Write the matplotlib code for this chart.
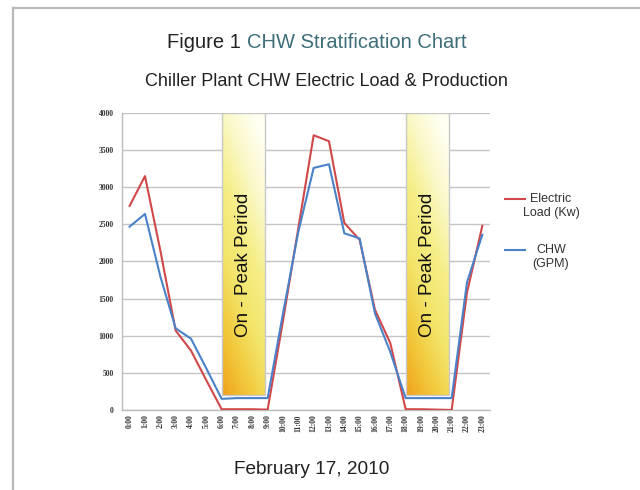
import matplotlib
matplotlib.use("Agg")
import matplotlib.pyplot as plt
import numpy as np
from matplotlib.lines import Line2D
from matplotlib.colors import LinearSegmentedColormap

plt.rcParams['font.family'] = ['Liberation Sans', 'DejaVu Sans']

# data
hour_labels = ["0:00", "1:00", "2:00", "3:00", "4:00", "5:00", "6:00", "7:00",
               "8:00", "9:00", "10:00", "11:00", "12:00", "13:00", "14:00", "15:00",
               "16:00", "17:00", "18:00", "19:00", "20:00", "21:00", "22:00", "23:00"]
electric_kw = [2750, 3150, 2150, 1070, 800, 400, 10, 10, 10, 5, 1200, 2450,
               3700, 3620, 2520, 2290, 1350, 900, 10, 10, 5, 0, 1580, 2480]
chw_gpm = [2470, 2640, 1800, 1100, 960, 560, 150, 160, 160, 160, 1300, 2400,
           3260, 3310, 2380, 2310, 1300, 780, 160, 160, 160, 160, 1720, 2360]
peak_periods = [(6.0, 8.83), (18.0, 20.83)]
peak_bottom = 200
legend_labels = ["Electric\nLoad (Kw)", "CHW\n(GPM)"]

red = "#D0484A"
blue = "#4A82C8"

fig = plt.figure(figsize=(6.4, 4.9), dpi=100)
ax = fig.add_axes([0.1906, 0.1633, 0.575, 0.6061])

x = np.arange(len(hour_labels))
ax.set_xlim(-0.5, len(hour_labels) - 0.5)
ax.set_ylim(0, 4000)
ax.set_yticks(np.arange(0, 4001, 500))
ax.grid(axis='y', color='#C4C4C4', lw=1.0, zorder=0)
ax.set_axisbelow(True)

# on-peak shaded boxes with gradient
cmap = LinearSegmentedColormap.from_list(
    "peak", ["#EFA21E", "#F2C83A", "#F3E46A", "#F5EE86", "#FAF8C8", "#FFFFF2"])
uu, vv = np.meshgrid(np.linspace(0, 1, 60), np.linspace(0, 1, 200))
grad = 0.35 * uu + 0.85 * vv
for x0, x1 in peak_periods:
    ax.imshow(grad, extent=(x0, x1, peak_bottom, 4000), origin='lower',
              cmap=cmap, aspect='auto', zorder=1, vmin=0, vmax=1.1)
    ax.add_patch(plt.Rectangle((x0, peak_bottom), x1 - x0, 4000 - peak_bottom,
                               fill=False, ec='#C8C8C8', lw=1.0, zorder=1.5))
    ax.text((x0 + x1) / 2, 1950, "On - Peak Period", rotation=90,
            ha='center', va='center', fontsize=13.6, color='#111111', zorder=2)

ax.plot(x, electric_kw, color=red, lw=1.5, zorder=3)
ax.plot(x, chw_gpm, color=blue, lw=1.5, zorder=3)

ax.set_xticks(x)
ax.set_xticklabels(hour_labels, rotation=90, fontsize=5.5,
                   family='Liberation Serif', fontweight='bold', color='#333333')
for lab in ax.get_yticklabels():
    lab.set_fontsize(5.5)
    lab.set_family('Liberation Serif')
    lab.set_fontweight('bold')
    lab.set_color('#333333')
ax.tick_params(axis='y', length=0, pad=6)
ax.tick_params(axis='x', length=0, pad=3)
for side in ['top', 'right']:
    ax.spines[side].set_visible(False)
ax.spines['left'].set_color('#BDBDBD')
ax.spines['bottom'].set_color('#BDBDBD')
ax.spines['left'].set_linewidth(1.0)
ax.spines['bottom'].set_linewidth(1.0)

# legend drawn by hand so the key sits on the first text line
for (ly, col, lab) in [(199, red, legend_labels[0]), (250, blue, legend_labels[1])]:
    fy = 1 - ly / 490
    fig.add_artist(Line2D([505 / 640, 525 / 640], [fy, fy], color=col, lw=1.5,
                          transform=fig.transFigure))
    fig.text(551 / 640, fy + 6 / 490, lab, ha='center', va='top', fontsize=9,
             color='#333333', linespacing=1.25)

# titles
fig.canvas.draw()
r = fig.canvas.get_renderer()
ta = fig.text(0, 1 - 43 / 490, "Figure 1 ", fontsize=14.5, color='#222222', va='center')
tb = fig.text(0, 1 - 43 / 490, "CHW Stratification Chart", fontsize=14.5,
              color='#3D6E7A', va='center')
wa = ta.get_window_extent(r).width / 640
wb = tb.get_window_extent(r).width / 640
x0 = 317 / 640 - (wa + wb) / 2
ta.set_x(x0)
tb.set_x(x0 + wa)
fig.text(326 / 640, 1 - 82 / 490, "Chiller Plant CHW Electric Load & Production",
         fontsize=13, color='#222222', ha='center', va='center')
fig.text(312 / 640, 1 - 469 / 490, "February 17, 2010", fontsize=13.7,
         color='#222222', ha='center', va='center')

# page frame
fig.add_artist(Line2D([13 / 640, 1], [1 - 8 / 490, 1 - 8 / 490], color='#B8B8B8', lw=1.6,
                      transform=fig.transFigure))
fig.add_artist(Line2D([13 / 640, 13 / 640], [0, 1 - 8 / 490], color='#B8B8B8', lw=1.6,
                      transform=fig.transFigure))

fig.savefig("out.png", dpi=100)
